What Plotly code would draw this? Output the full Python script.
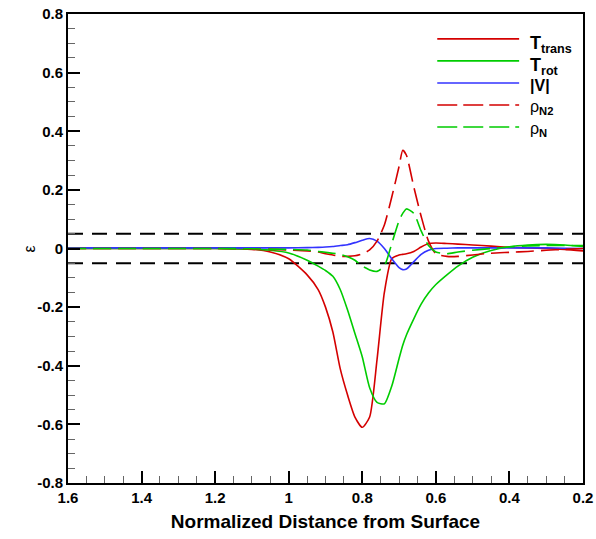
import plotly.graph_objects as go

# normalized distance from surface (axis is reversed: 1.6 -> 0.2)
dist = [1.6, 1.4, 1.2, 1.1, 1.05, 1.0, 0.95, 0.92, 0.9, 0.88, 0.86, 0.84, 0.82, 0.8,
        0.78, 0.76, 0.74, 0.72, 0.70, 0.69, 0.68, 0.66, 0.64, 0.62, 0.60, 0.57, 0.54,
        0.5, 0.45, 0.4, 0.35, 0.3, 0.25, 0.2]

t_trans = [0.0, 0.0, 0.0, -0.003, -0.012, -0.035, -0.09, -0.14, -0.2, -0.285, -0.41, -0.5,
           -0.575, -0.61, -0.575, -0.38, -0.15, -0.035, -0.022, -0.02, -0.018, -0.01, 0.005,
           0.017, 0.019, 0.017, 0.015, 0.012, 0.008, 0.004, 0.002, 0.0, -0.003, -0.008]
t_rot = [0.0, 0.0, 0.0, -0.002, -0.006, -0.015, -0.04, -0.06, -0.075, -0.095, -0.14, -0.21,
         -0.29, -0.37, -0.475, -0.525, -0.53, -0.47, -0.375, -0.33, -0.295, -0.24, -0.19,
         -0.152, -0.123, -0.09, -0.06, -0.03, -0.007, 0.006, 0.012, 0.014, 0.012, 0.007]
vel = [0.002, 0.002, 0.002, 0.002, 0.002, 0.002, 0.003, 0.004, 0.005, 0.007, 0.01, 0.013,
       0.02, 0.028, 0.034, 0.025, 0.0, -0.035, -0.065, -0.072, -0.07, -0.045, -0.02,
       -0.006, 0.0, 0.001, 0.002, 0.002, 0.002, 0.002, 0.002, 0.002, 0.001, 0.0]
rho_n2 = [0.0, 0.0, 0.0, -0.002, -0.003, -0.005, -0.008, -0.012, -0.018, -0.022, -0.027,
          -0.027, -0.025, -0.018, -0.005, 0.025, 0.08, 0.175, 0.28, 0.335, 0.318, 0.21,
          0.11, 0.025, -0.018, -0.027, -0.027, -0.022, -0.016, -0.013, -0.01, -0.006,
          -0.003, 0.0]
rho_n = [0.0, 0.0, 0.0, -0.001, -0.002, -0.003, -0.005, -0.01, -0.013, -0.016, -0.02,
         -0.028, -0.04, -0.06, -0.073, -0.078, -0.06, 0.016, 0.095, 0.12, 0.135, 0.12,
         0.06, 0.01, -0.012, -0.018, -0.012, -0.006, 0.0, 0.005, 0.009, 0.01, 0.01, 0.01]

band = [0.05, -0.05]  # +/- 5% tolerance lines
band_x = [1.6, 0.2]

series = [
    ("<b>T</b><sub><b>trans</b></sub>", t_trans, "#d40000", "solid"),
    ("<b>T</b><sub><b>rot</b></sub>", t_rot, "#00cc00", "solid"),
    ("<b>|V|</b>", vel, "#3333ff", "solid"),
    ("ρ<sub><b>N2</b></sub>", rho_n2, "#d40000", "18px,7px"),
    ("ρ<sub><b>N</b></sub>", rho_n, "#00cc00", "18px,7px"),
]

FONT = "Liberation Sans, Arial, sans-serif"

fig = go.Figure()

for b in band:
    fig.add_trace(go.Scatter(x=band_x, y=[b, b], mode="lines", showlegend=False,
                             line=dict(color="black", width=2, dash="15px,9px")))

for name, ys, col, dash in series:
    fig.add_trace(go.Scatter(x=dist, y=ys, mode="lines", name=name, showlegend=False,
                             line=dict(color=col, width=1.6, dash=dash,
                                       shape="spline", smoothing=0.6)))

# hand-drawn legend (long line samples like the original)
leg_y = [0.947, 0.900, 0.853, 0.806, 0.759]
for (name, ys, col, dash), ly in zip(series, leg_y):
    fig.add_shape(type="line", xref="paper", yref="paper", x0=0.717, x1=0.876,
                  y0=ly, y1=ly, line=dict(color=col, width=1.6,
                                          dash="20px,6px" if dash != "solid" else "solid"))
    big = name.startswith("<b>T")
    fig.add_annotation(xref="paper", yref="paper", x=0.893, y=ly - (0.012 if big else 0.006),
                       text=name, showarrow=False, xanchor="left", yanchor="middle",
                       font=dict(family=FONT, size=18 if big else 16, color="black"))

# y-axis title as a rotated annotation so it sits close to the tick labels
fig.add_annotation(xref="paper", yref="paper", x=-0.074, y=0.5, text="ε", textangle=-90,
                   showarrow=False, xanchor="center", yanchor="middle",
                   font=dict(family=FONT, size=16, color="black"))

axis_font = dict(family=FONT, size=15, color="black", weight="bold")
yvals = [-0.8, -0.6, -0.4, -0.2, 0, 0.2, 0.4, 0.6, 0.8]
xvals = [1.6, 1.4, 1.2, 1.0, 0.8, 0.6, 0.4, 0.2]

fig.update_layout(
    width=596, height=539,
    margin=dict(l=68, r=13, t=14, b=56),
    plot_bgcolor="white", paper_bgcolor="white",
    font=dict(family=FONT, size=14, color="black"),
    xaxis=dict(range=[1.6, 0.2], tickvals=xvals, ticktext=[f"{v:g}" for v in xvals],
               ticks="inside", ticklen=12, tickwidth=2, tickcolor="black", automargin=False,
               minor=dict(ticks="inside", dtick=0.05, ticklen=7, tickwidth=1, tickcolor="#666"),
               showline=True, linewidth=2, linecolor="black", mirror=True,
               showgrid=False, zeroline=False, tickfont=axis_font,
               title=dict(text="Normalized Distance from Surface", standoff=10,
                          font=dict(family=FONT, size=19, weight="bold"))),
    yaxis=dict(range=[-0.8, 0.8], tickvals=yvals, ticktext=[f"{v:g}" for v in yvals],
               ticks="inside", ticklen=12, tickwidth=2, tickcolor="black", automargin=False,
               minor=dict(ticks="inside", dtick=0.05, ticklen=7, tickwidth=1, tickcolor="#666"),
               showline=True, linewidth=2, linecolor="black", mirror=True,
               showgrid=False, zeroline=False, tickfont=axis_font),
)

fig.write_html("out.html", config={"displayModeBar": False},
               post_script="document.body.style.margin='0';")
